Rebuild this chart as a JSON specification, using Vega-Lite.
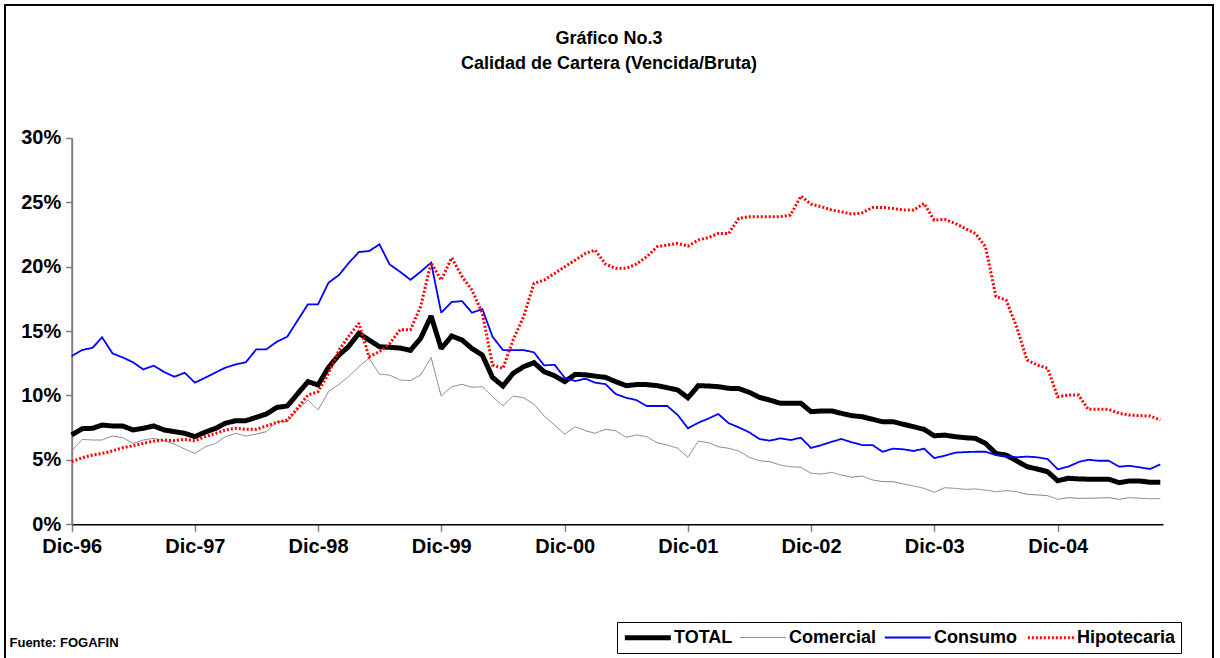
{
  "$schema": "https://vega.github.io/schema/vega-lite/v6.json",
  "autosize": {"type": "none"},
  "padding": {"left": 5, "top": 5, "right": 7, "bottom": -3},
  "width": 1208,
  "height": 656,
  "background": "white",
  "title": {
    "text": ["Gráfico No.3", "Calidad de Cartera (Vencida/Bruta)"],
    "frame": "group",
    "anchor": "middle",
    "orient": "top",
    "offset": -68,
    "baseline": "top",
    "font": "Liberation Sans",
    "fontSize": 18,
    "fontWeight": "bold",
    "color": "#000000",
    "lineHeight": 25
  },
  "data": {
    "values": [
      {"f": "1996-12-01", "TOTAL": 6.93, "Comercial": 5.71, "Consumo": 13.06, "Hipotecaria": 4.86},
      {"f": "1997-01-01", "TOTAL": 7.42, "Comercial": 6.59, "Consumo": 13.52, "Hipotecaria": 5.17},
      {"f": "1997-02-01", "TOTAL": 7.45, "Comercial": 6.54, "Consumo": 13.70, "Hipotecaria": 5.38},
      {"f": "1997-03-01", "TOTAL": 7.70, "Comercial": 6.54, "Consumo": 14.51, "Hipotecaria": 5.50},
      {"f": "1997-04-01", "TOTAL": 7.63, "Comercial": 6.85, "Consumo": 13.26, "Hipotecaria": 5.69},
      {"f": "1997-05-01", "TOTAL": 7.63, "Comercial": 6.72, "Consumo": 12.95, "Hipotecaria": 5.94},
      {"f": "1997-06-01", "TOTAL": 7.32, "Comercial": 6.28, "Consumo": 12.57, "Hipotecaria": 6.10},
      {"f": "1997-07-01", "TOTAL": 7.45, "Comercial": 6.54, "Consumo": 12.02, "Hipotecaria": 6.28},
      {"f": "1997-08-01", "TOTAL": 7.63, "Comercial": 6.67, "Consumo": 12.31, "Hipotecaria": 6.46},
      {"f": "1997-09-01", "TOTAL": 7.32, "Comercial": 6.49, "Consumo": 11.82, "Hipotecaria": 6.54},
      {"f": "1997-10-01", "TOTAL": 7.19, "Comercial": 6.23, "Consumo": 11.45, "Hipotecaria": 6.49},
      {"f": "1997-11-01", "TOTAL": 7.06, "Comercial": 5.84, "Consumo": 11.76, "Hipotecaria": 6.59},
      {"f": "1997-12-01", "TOTAL": 6.80, "Comercial": 5.50, "Consumo": 10.99, "Hipotecaria": 6.49},
      {"f": "1998-01-01", "TOTAL": 7.16, "Comercial": 6.02, "Consumo": 11.38, "Hipotecaria": 6.80},
      {"f": "1998-02-01", "TOTAL": 7.45, "Comercial": 6.28, "Consumo": 11.79, "Hipotecaria": 7.06},
      {"f": "1998-03-01", "TOTAL": 7.84, "Comercial": 6.80, "Consumo": 12.15, "Hipotecaria": 7.32},
      {"f": "1998-04-01", "TOTAL": 8.04, "Comercial": 7.06, "Consumo": 12.41, "Hipotecaria": 7.45},
      {"f": "1998-05-01", "TOTAL": 8.04, "Comercial": 6.85, "Consumo": 12.57, "Hipotecaria": 7.37},
      {"f": "1998-06-01", "TOTAL": 8.30, "Comercial": 7.00, "Consumo": 13.58, "Hipotecaria": 7.37},
      {"f": "1998-07-01", "TOTAL": 8.56, "Comercial": 7.19, "Consumo": 13.58, "Hipotecaria": 7.63},
      {"f": "1998-08-01", "TOTAL": 9.07, "Comercial": 7.96, "Consumo": 14.17, "Hipotecaria": 7.91},
      {"f": "1998-09-01", "TOTAL": 9.18, "Comercial": 7.96, "Consumo": 14.56, "Hipotecaria": 8.09},
      {"f": "1998-10-01", "TOTAL": 10.11, "Comercial": 8.87, "Consumo": 15.80, "Hipotecaria": 9.00},
      {"f": "1998-11-01", "TOTAL": 11.07, "Comercial": 9.64, "Consumo": 17.07, "Hipotecaria": 10.03},
      {"f": "1998-12-01", "TOTAL": 10.81, "Comercial": 8.87, "Consumo": 17.07, "Hipotecaria": 10.29},
      {"f": "1999-01-01", "TOTAL": 12.18, "Comercial": 10.29, "Consumo": 18.75, "Hipotecaria": 11.71},
      {"f": "1999-02-01", "TOTAL": 13.13, "Comercial": 10.86, "Consumo": 19.34, "Hipotecaria": 13.52},
      {"f": "1999-03-01", "TOTAL": 13.78, "Comercial": 11.45, "Consumo": 20.25, "Hipotecaria": 14.56},
      {"f": "1999-04-01", "TOTAL": 14.82, "Comercial": 12.23, "Consumo": 21.13, "Hipotecaria": 15.60},
      {"f": "1999-05-01", "TOTAL": 14.30, "Comercial": 12.88, "Consumo": 21.20, "Hipotecaria": 13.00},
      {"f": "1999-06-01", "TOTAL": 13.78, "Comercial": 11.66, "Consumo": 21.72, "Hipotecaria": 13.40},
      {"f": "1999-07-01", "TOTAL": 13.73, "Comercial": 11.58, "Consumo": 20.17, "Hipotecaria": 14.00},
      {"f": "1999-08-01", "TOTAL": 13.68, "Comercial": 11.20, "Consumo": 19.60, "Hipotecaria": 15.10},
      {"f": "1999-09-01", "TOTAL": 13.50, "Comercial": 11.15, "Consumo": 18.97, "Hipotecaria": 15.10},
      {"f": "1999-10-01", "TOTAL": 14.43, "Comercial": 11.58, "Consumo": 19.60, "Hipotecaria": 16.90},
      {"f": "1999-11-01", "TOTAL": 16.16, "Comercial": 12.95, "Consumo": 20.30, "Hipotecaria": 20.30},
      {"f": "1999-12-01", "TOTAL": 13.64, "Comercial": 9.95, "Consumo": 16.42, "Hipotecaria": 18.95},
      {"f": "2000-01-01", "TOTAL": 14.61, "Comercial": 10.68, "Consumo": 17.25, "Hipotecaria": 20.68},
      {"f": "2000-02-01", "TOTAL": 14.30, "Comercial": 10.86, "Consumo": 17.32, "Hipotecaria": 19.21},
      {"f": "2000-03-01", "TOTAL": 13.64, "Comercial": 10.63, "Consumo": 16.42, "Hipotecaria": 18.18},
      {"f": "2000-04-01", "TOTAL": 13.13, "Comercial": 10.68, "Consumo": 16.70, "Hipotecaria": 16.37},
      {"f": "2000-05-01", "TOTAL": 11.40, "Comercial": 9.90, "Consumo": 14.56, "Hipotecaria": 12.36},
      {"f": "2000-06-01", "TOTAL": 10.73, "Comercial": 9.20, "Consumo": 13.52, "Hipotecaria": 12.10},
      {"f": "2000-07-01", "TOTAL": 11.71, "Comercial": 9.95, "Consumo": 13.52, "Hipotecaria": 14.30},
      {"f": "2000-08-01", "TOTAL": 12.23, "Comercial": 9.82, "Consumo": 13.52, "Hipotecaria": 16.10},
      {"f": "2000-09-01", "TOTAL": 12.54, "Comercial": 9.33, "Consumo": 13.34, "Hipotecaria": 18.70},
      {"f": "2000-10-01", "TOTAL": 11.84, "Comercial": 8.40, "Consumo": 12.33, "Hipotecaria": 18.95},
      {"f": "2000-11-01", "TOTAL": 11.53, "Comercial": 7.70, "Consumo": 12.38, "Hipotecaria": 19.47},
      {"f": "2000-12-01", "TOTAL": 11.07, "Comercial": 7.00, "Consumo": 11.37, "Hipotecaria": 19.98},
      {"f": "2001-01-01", "TOTAL": 11.63, "Comercial": 7.57, "Consumo": 11.12, "Hipotecaria": 20.50},
      {"f": "2001-02-01", "TOTAL": 11.60, "Comercial": 7.26, "Consumo": 11.30, "Hipotecaria": 21.02},
      {"f": "2001-03-01", "TOTAL": 11.50, "Comercial": 7.06, "Consumo": 10.99, "Hipotecaria": 21.28},
      {"f": "2001-04-01", "TOTAL": 11.40, "Comercial": 7.37, "Consumo": 10.88, "Hipotecaria": 20.19},
      {"f": "2001-05-01", "TOTAL": 11.07, "Comercial": 7.26, "Consumo": 10.11, "Hipotecaria": 19.86},
      {"f": "2001-06-01", "TOTAL": 10.76, "Comercial": 6.75, "Consumo": 9.82, "Hipotecaria": 19.86},
      {"f": "2001-07-01", "TOTAL": 10.84, "Comercial": 6.93, "Consumo": 9.64, "Hipotecaria": 20.19},
      {"f": "2001-08-01", "TOTAL": 10.84, "Comercial": 6.80, "Consumo": 9.18, "Hipotecaria": 20.76},
      {"f": "2001-09-01", "TOTAL": 10.76, "Comercial": 6.33, "Consumo": 9.18, "Hipotecaria": 21.54},
      {"f": "2001-10-01", "TOTAL": 10.60, "Comercial": 6.15, "Consumo": 9.18, "Hipotecaria": 21.67},
      {"f": "2001-11-01", "TOTAL": 10.42, "Comercial": 5.90, "Consumo": 8.48, "Hipotecaria": 21.80},
      {"f": "2001-12-01", "TOTAL": 9.82, "Comercial": 5.20, "Consumo": 7.45, "Hipotecaria": 21.59},
      {"f": "2002-01-01", "TOTAL": 10.76, "Comercial": 6.46, "Consumo": 7.88, "Hipotecaria": 22.06},
      {"f": "2002-02-01", "TOTAL": 10.73, "Comercial": 6.33, "Consumo": 8.22, "Hipotecaria": 22.26},
      {"f": "2002-03-01", "TOTAL": 10.68, "Comercial": 6.02, "Consumo": 8.56, "Hipotecaria": 22.57},
      {"f": "2002-04-01", "TOTAL": 10.55, "Comercial": 5.90, "Consumo": 7.84, "Hipotecaria": 22.57},
      {"f": "2002-05-01", "TOTAL": 10.53, "Comercial": 5.69, "Consumo": 7.52, "Hipotecaria": 23.74},
      {"f": "2002-06-01", "TOTAL": 10.24, "Comercial": 5.20, "Consumo": 7.14, "Hipotecaria": 23.87},
      {"f": "2002-07-01", "TOTAL": 9.85, "Comercial": 4.93, "Consumo": 6.62, "Hipotecaria": 23.87},
      {"f": "2002-08-01", "TOTAL": 9.64, "Comercial": 4.86, "Consumo": 6.49, "Hipotecaria": 23.87},
      {"f": "2002-09-01", "TOTAL": 9.39, "Comercial": 4.60, "Consumo": 6.67, "Hipotecaria": 23.87},
      {"f": "2002-10-01", "TOTAL": 9.39, "Comercial": 4.47, "Consumo": 6.54, "Hipotecaria": 24.00},
      {"f": "2002-11-01", "TOTAL": 9.39, "Comercial": 4.42, "Consumo": 6.72, "Hipotecaria": 25.47},
      {"f": "2002-12-01", "TOTAL": 8.74, "Comercial": 3.96, "Consumo": 5.92, "Hipotecaria": 24.85},
      {"f": "2003-01-01", "TOTAL": 8.79, "Comercial": 3.90, "Consumo": 6.15, "Hipotecaria": 24.64},
      {"f": "2003-02-01", "TOTAL": 8.79, "Comercial": 4.03, "Consumo": 6.41, "Hipotecaria": 24.38},
      {"f": "2003-03-01", "TOTAL": 8.61, "Comercial": 3.82, "Consumo": 6.62, "Hipotecaria": 24.25},
      {"f": "2003-04-01", "TOTAL": 8.43, "Comercial": 3.65, "Consumo": 6.36, "Hipotecaria": 24.07},
      {"f": "2003-05-01", "TOTAL": 8.35, "Comercial": 3.75, "Consumo": 6.15, "Hipotecaria": 24.17},
      {"f": "2003-06-01", "TOTAL": 8.15, "Comercial": 3.44, "Consumo": 6.15, "Hipotecaria": 24.59},
      {"f": "2003-07-01", "TOTAL": 7.96, "Comercial": 3.31, "Consumo": 5.63, "Hipotecaria": 24.59},
      {"f": "2003-08-01", "TOTAL": 7.96, "Comercial": 3.31, "Consumo": 5.87, "Hipotecaria": 24.51},
      {"f": "2003-09-01", "TOTAL": 7.76, "Comercial": 3.13, "Consumo": 5.82, "Hipotecaria": 24.38},
      {"f": "2003-10-01", "TOTAL": 7.57, "Comercial": 2.97, "Consumo": 5.69, "Hipotecaria": 24.38},
      {"f": "2003-11-01", "TOTAL": 7.37, "Comercial": 2.79, "Consumo": 5.87, "Hipotecaria": 24.90},
      {"f": "2003-12-01", "TOTAL": 6.87, "Comercial": 2.48, "Consumo": 5.14, "Hipotecaria": 23.60},
      {"f": "2004-01-01", "TOTAL": 6.92, "Comercial": 2.84, "Consumo": 5.32, "Hipotecaria": 23.66},
      {"f": "2004-02-01", "TOTAL": 6.80, "Comercial": 2.79, "Consumo": 5.56, "Hipotecaria": 23.35},
      {"f": "2004-03-01", "TOTAL": 6.72, "Comercial": 2.71, "Consumo": 5.60, "Hipotecaria": 22.96},
      {"f": "2004-04-01", "TOTAL": 6.67, "Comercial": 2.74, "Consumo": 5.63, "Hipotecaria": 22.57},
      {"f": "2004-05-01", "TOTAL": 6.28, "Comercial": 2.66, "Consumo": 5.63, "Hipotecaria": 21.54},
      {"f": "2004-06-01", "TOTAL": 5.50, "Comercial": 2.53, "Consumo": 5.38, "Hipotecaria": 17.66},
      {"f": "2004-07-01", "TOTAL": 5.37, "Comercial": 2.61, "Consumo": 5.30, "Hipotecaria": 17.40},
      {"f": "2004-08-01", "TOTAL": 4.93, "Comercial": 2.53, "Consumo": 5.20, "Hipotecaria": 15.33},
      {"f": "2004-09-01", "TOTAL": 4.47, "Comercial": 2.33, "Consumo": 5.25, "Hipotecaria": 12.75},
      {"f": "2004-10-01", "TOTAL": 4.29, "Comercial": 2.28, "Consumo": 5.20, "Hipotecaria": 12.36},
      {"f": "2004-11-01", "TOTAL": 4.08, "Comercial": 2.22, "Consumo": 5.07, "Hipotecaria": 12.10},
      {"f": "2004-12-01", "TOTAL": 3.38, "Comercial": 1.94, "Consumo": 4.27, "Hipotecaria": 9.90},
      {"f": "2005-01-01", "TOTAL": 3.57, "Comercial": 2.07, "Consumo": 4.47, "Hipotecaria": 10.03},
      {"f": "2005-02-01", "TOTAL": 3.52, "Comercial": 2.02, "Consumo": 4.83, "Hipotecaria": 10.03},
      {"f": "2005-03-01", "TOTAL": 3.50, "Comercial": 2.02, "Consumo": 5.01, "Hipotecaria": 8.92},
      {"f": "2005-04-01", "TOTAL": 3.50, "Comercial": 2.04, "Consumo": 4.93, "Hipotecaria": 8.92},
      {"f": "2005-05-01", "TOTAL": 3.50, "Comercial": 2.07, "Consumo": 4.93, "Hipotecaria": 8.92},
      {"f": "2005-06-01", "TOTAL": 3.23, "Comercial": 1.94, "Consumo": 4.47, "Hipotecaria": 8.61},
      {"f": "2005-07-01", "TOTAL": 3.36, "Comercial": 2.07, "Consumo": 4.54, "Hipotecaria": 8.48},
      {"f": "2005-08-01", "TOTAL": 3.36, "Comercial": 2.02, "Consumo": 4.42, "Hipotecaria": 8.43},
      {"f": "2005-09-01", "TOTAL": 3.26, "Comercial": 1.99, "Consumo": 4.29, "Hipotecaria": 8.40},
      {"f": "2005-10-01", "TOTAL": 3.26, "Comercial": 1.99, "Consumo": 4.65, "Hipotecaria": 8.09}
    ]
  },
  "transform": [
    {"fold": ["TOTAL", "Comercial", "Consumo", "Hipotecaria"], "as": ["serie", "valor"]}
  ],
  "mark": {"type": "line", "strokeJoin": "miter", "strokeMiterLimit": 2, "strokeCap": "butt"},
  "encoding": {
    "x": {
      "field": "f",
      "type": "temporal",
      "scale": {
        "type": "utc",
        "domain": [
          {"year": 1996, "month": 12, "date": 1, "utc": true},
          {"year": 2005, "month": 10, "date": 9, "utc": true}
        ],
        "range": [66.7, 1158],
        "nice": false
      },
      "axis": {
        "title": "Fuente: FOGAFIN",
        "values": [
          {"year": 1996, "month": 12, "date": 1, "utc": true},
          {"year": 1997, "month": 12, "date": 1, "utc": true},
          {"year": 1998, "month": 12, "date": 1, "utc": true},
          {"year": 1999, "month": 12, "date": 1, "utc": true},
          {"year": 2000, "month": 12, "date": 1, "utc": true},
          {"year": 2001, "month": 12, "date": 1, "utc": true},
          {"year": 2002, "month": 12, "date": 1, "utc": true},
          {"year": 2003, "month": 12, "date": 1, "utc": true},
          {"year": 2004, "month": 12, "date": 1, "utc": true}
        ],
        "labelExpr": "'Dic-' + utcFormat(datum.value, '%y')",
        "orient": "bottom",
        "offset": -136.7,
        "grid": false,
        "domainColor": "#000000",
        "domainWidth": 1.5,
        "tickColor": "#808080",
        "tickWidth": 1.5,
        "tickSize": 7,
        "labelFont": "Liberation Sans",
        "labelFontSize": 20,
        "labelFontWeight": "bold",
        "labelColor": "#000000",
        "labelPadding": 5,
        "labelFlush": false,
        "labelOverlap": false,
        "titleX": 4,
        "titleY": 122.5,
        "titleAlign": "left",
        "titleBaseline": "alphabetic",
        "titleFont": "Liberation Sans",
        "titleFontSize": 13,
        "titleFontWeight": "bold",
        "titleColor": "#000000"
      }
    },
    "y": {
      "field": "valor",
      "type": "quantitative",
      "scale": {"domain": [0, 30], "range": [519.3, 132.7], "nice": false, "zero": false},
      "axis": {
        "title": null,
        "values": [0, 5, 10, 15, 20, 25, 30],
        "labelExpr": "datum.value + '%'",
        "offset": -66.7,
        "grid": false,
        "domainColor": "#808080",
        "domainWidth": 2,
        "tickColor": "#808080",
        "tickWidth": 1.5,
        "tickSize": 6,
        "labelFont": "Liberation Sans",
        "labelFontSize": 20,
        "labelFontWeight": "bold",
        "labelColor": "#000000",
        "labelPadding": 5
      }
    },
    "color": {
      "field": "serie",
      "type": "nominal",
      "scale": {
        "domain": ["TOTAL", "Comercial", "Consumo", "Hipotecaria"],
        "range": ["#000000", "#808080", "#0000ff", "#ff0000"]
      },
      "legend": {
        "title": null,
        "orient": "none",
        "legendX": 612,
        "legendY": 617,
        "direction": "horizontal",
        "columns": 4,
        "symbolType": "M-1,0H5",
        "symbolSize": 235,
        "labelOffset": 31,
        "columnPadding": 4,
        "padding": 5,
        "strokeColor": "#000000",
        "labelFont": "Liberation Sans",
        "labelFontSize": 18,
        "labelFontWeight": "bold",
        "labelColor": "#000000"
      }
    },
    "strokeWidth": {
      "field": "serie",
      "type": "nominal",
      "scale": {
        "type": "ordinal",
        "domain": ["TOTAL", "Comercial", "Consumo", "Hipotecaria"],
        "range": [5, 1, 1.8, 3]
      }
    },
    "strokeDash": {
      "field": "serie",
      "type": "nominal",
      "scale": {
        "domain": ["TOTAL", "Comercial", "Consumo", "Hipotecaria"],
        "range": [[1, 0], [1, 0], [1, 0], [2, 2]]
      }
    }
  },
  "config": {
    "view": {"stroke": "#000000", "strokeWidth": 2},
    "font": "Liberation Sans"
  }
}
